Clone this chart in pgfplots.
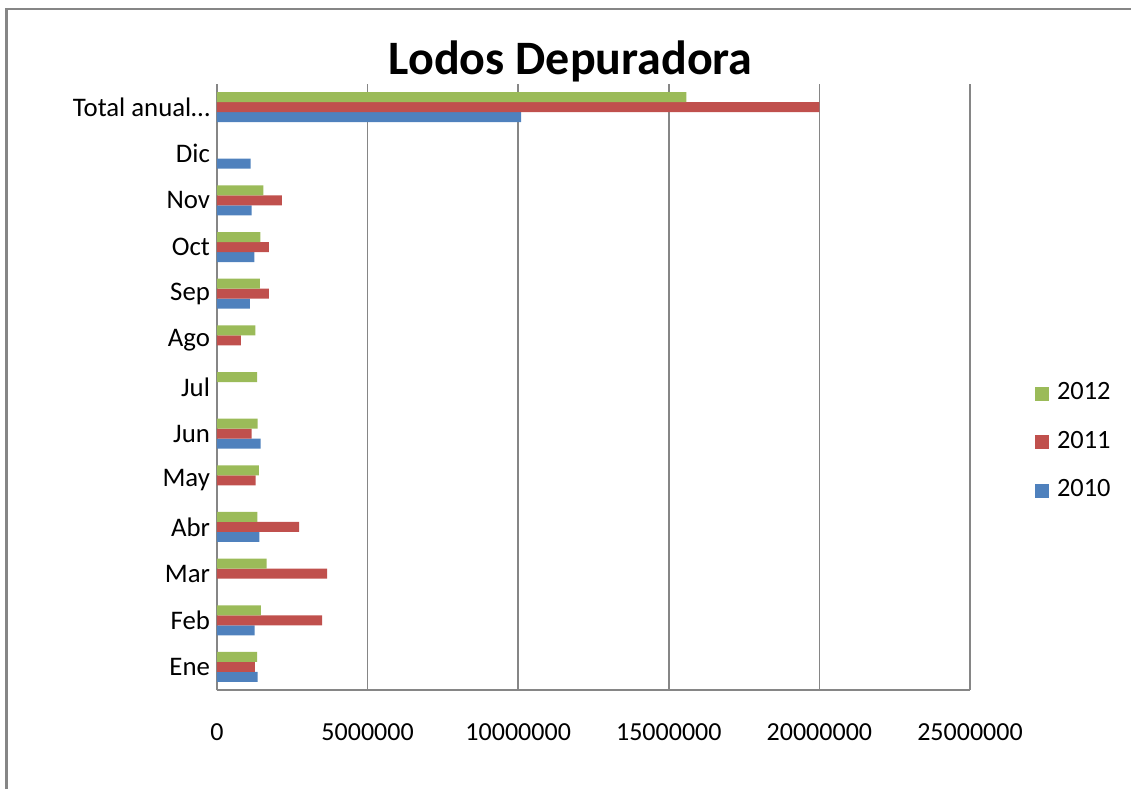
\documentclass[border=0pt]{standalone}
\usepackage{pgfplots}
\pgfplotsset{compat=1.18}
\usepackage{fontspec}
\setmainfont{Carlito}
\definecolor{g12}{RGB}{155,187,89}
\definecolor{r11}{RGB}{192,80,77}
\definecolor{b10}{RGB}{79,129,189}
\definecolor{gridgray}{RGB}{134,134,134}
\begin{document}
\begin{tikzpicture}
\useasboundingbox (0,0) rectangle (565.5pt,-394.5pt);
\draw[gridgray,line width=1.2pt] (3.25pt,-394.5pt) -- (3.25pt,-4.5pt) -- (565.5pt,-4.5pt);
\node[anchor=base,font=\fontsize{24}{28}\selectfont\bfseries] at (285.3pt,-37pt) {Lodos Depuradora};
\begin{axis}[
  at={(108.5pt,-345.15pt)}, anchor=south west,
  scale only axis, width=376.5pt, height=303.3pt,
  xbar, bar width=5pt,
  xmin=0, xmax=25000000, ymin=-0.5, ymax=12.5,
  axis x line*=bottom, axis y line*=left,
  axis line style={gridgray,line width=1pt,-},
  xtick={0,5000000,10000000,15000000,20000000,25000000},
  xticklabels={0,5000000,10000000,15000000,20000000,25000000},
  scaled x ticks=false,
  ytick={0,1,2,3,4,5,6,7,8,9,10,11,12},
  yticklabels={Ene,Feb,Mar,Abr,May,Jun,Jul,Ago,Sep,Oct,Nov,Dic,Total anual…},
  major tick length=0pt,
  xmajorgrids, grid style={gridgray,line width=0.8pt},
  tick label style={font=\fontsize{13}{15}\selectfont},
  yticklabel style={font=\fontsize{13.4}{15}\selectfont},
  xticklabel style={yshift=-13pt},
  reverse legend,
  legend style={at={(1.0784,0.4093)}, anchor=west, draw=none, fill=none,
    font=\fontsize{13.2}{15}\selectfont, row sep=12.25pt, column sep=3.8pt,
    nodes={inner sep=0pt, text height=9pt, text depth=3pt}},
  legend cell align=left,
  legend image code/.code={\draw[#1,draw=none] (0pt,-3.5pt) rectangle (7pt,3.5pt);},
]
\addplot[fill=b10, draw=none, bar shift=-5pt] coordinates {
 (1350000,0) (1250000,1) (1410000,3) (1450000,5) (1090000,8) (1240000,9) (1150000,10) (1120000,11) (10100000,12)};
\addplot[fill=r11, draw=none, bar shift=0pt] coordinates {
 (1260000,0) (3490000,1) (3660000,2) (2730000,3) (1280000,4) (1150000,5) (790000,7) (1720000,8) (1720000,9) (2150000,10) (20000000,12)};
\addplot[fill=g12, draw=none, bar shift=5pt] coordinates {
 (1330000,0) (1460000,1) (1650000,2) (1340000,3) (1390000,4) (1350000,5) (1330000,6) (1270000,7) (1420000,8) (1440000,9) (1540000,10) (15580000,12)};
\legend{2010,2011,2012}
\end{axis}
\end{tikzpicture}
\end{document}
